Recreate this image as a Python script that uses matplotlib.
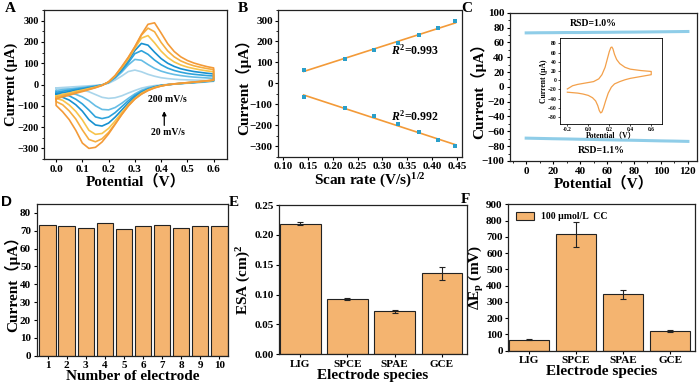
import numpy as np
import matplotlib
matplotlib.use('Agg')
import matplotlib.pyplot as plt
from matplotlib.ticker import MultipleLocator, FormatStrFormatter
from matplotlib.patches import Patch

plt.rcParams['font.family'] = ['Liberation Serif', 'Noto Sans CJK SC', 'DejaVu Sans']
plt.rcParams['font.weight'] = 'bold'
plt.rcParams['axes.labelweight'] = 'bold'
plt.rcParams['mathtext.fontset'] = 'custom'
plt.rcParams['mathtext.rm'] = 'Liberation Serif:bold'
plt.rcParams['mathtext.it'] = 'Liberation Serif:italic:bold'
plt.rcParams['mathtext.bf'] = 'Liberation Serif:bold'
plt.rcParams['axes.linewidth'] = 0.9
plt.rcParams['xtick.major.size'] = 2.5
plt.rcParams['ytick.major.size'] = 2.5
plt.rcParams['xtick.minor.size'] = 1.5
plt.rcParams['ytick.minor.size'] = 1.5
plt.rcParams['xtick.major.width'] = 0.8
plt.rcParams['ytick.major.width'] = 0.8

# ---------------- Panel A data: CVs at different scan rates ----------------
E_grid = [0.000, 0.025, 0.050, 0.075, 0.100, 0.125, 0.150, 0.175, 0.200, 0.225,
          0.250, 0.275, 0.300, 0.325, 0.350, 0.375, 0.400, 0.425, 0.450, 0.475,
          0.500, 0.525, 0.550, 0.575, 0.600]
scan_labels = ['20', '50', '80', '110', '140', '170', '200']
fwd_20 = [-16, -14, -12, -10, -8, -6, -4, -1, 6, 21, 40, 61, 68, 60, 48, 39, 32, 28, 25, 23, 22, 21, 20, 19, 18]
fwd_50 = [-28, -24, -21, -17, -14, -10, -6, -2, 9, 30, 58, 92, 118, 114, 94, 76, 63, 54, 47, 42, 38, 35, 33, 31, 29]
fwd_80 = [-37, -31, -27, -22, -18, -13, -8, -2, 10, 34, 65, 102, 145, 159, 142, 115, 93, 77, 66, 58, 52, 48, 45, 42, 40]
fwd_110 = [-45, -38, -33, -27, -22, -16, -10, -3, 11, 38, 72, 112, 160, 193, 185, 152, 122, 100, 85, 74, 67, 61, 57, 53, 50]
fwd_140 = [-54, -46, -40, -32, -26, -19, -12, -3, 12, 41, 78, 120, 170, 218, 230, 196, 157, 127, 106, 92, 82, 75, 69, 64, 60]
fwd_170 = [-61, -52, -45, -37, -30, -22, -14, -4, 13, 42, 82, 126, 176, 232, 265, 248, 198, 158, 130, 111, 98, 88, 81, 75, 70]
fwd_200 = [-68, -58, -50, -41, -33, -24, -15, -4, 12, 42, 84, 128, 178, 235, 283, 290, 242, 192, 155, 130, 113, 101, 92, 84, 78]
rev_20 = [-19, -19, -20, -22, -26, -34, -47, -60, -65, -62, -53, -40, -28, -17, -10, -5, -2, 0, 2, 4, 6, 8, 10, 12, 15]
rev_50 = [-36, -38, -41, -46, -58, -76, -100, -117, -119, -108, -88, -65, -44, -27, -16, -9, -4, 0, 2, 5, 7, 9, 11, 14, 17]
rev_80 = [-46, -48, -53, -69, -91, -120, -152, -160, -153, -132, -104, -76, -51, -33, -20, -11, -4, -1, 2, 5, 7, 10, 12, 15, 18]
rev_110 = [-55, -60, -73, -95, -125, -165, -190, -195, -181, -153, -120, -87, -58, -37, -23, -12, -5, -1, 3, 5, 8, 10, 13, 16, 19]
rev_140 = [-65, -74, -96, -126, -166, -215, -234, -230, -206, -171, -132, -95, -65, -41, -25, -14, -6, -1, 3, 5, 8, 11, 14, 16, 20]
rev_170 = [-80, -95, -124, -162, -213, -258, -269, -255, -225, -184, -141, -101, -68, -45, -28, -15, -7, -1, 3, 6, 9, 11, 14, 17, 21]
rev_200 = [-98, -128, -165, -215, -275, -300, -295, -270, -232, -187, -141, -100, -68, -45, -28, -16, -7, -1, 3, 6, 9, 12, 15, 18, 22]
cv_colors = ['#a9d5eb', '#66bde5', '#2ea3db', '#1790d0', '#f7c44c', '#f6ad40', '#f39a38']

# ---------------- Panel B data ----------------
sqrt_rate = [0.141, 0.224, 0.283, 0.332, 0.374, 0.412, 0.447]
ipa = [65, 118, 157, 193, 231, 266, 296]
ipc = [-64, -118, -158, -195, -233, -270, -300]

# ---------------- Panel C data ----------------
cycles = [0, 10, 20, 30, 40, 50, 60, 70, 80, 90, 100, 110, 120]
stab_ox = [72.8, 73.0, 73.1, 73.3, 73.3, 73.5, 73.6, 73.8, 73.9, 74.1, 74.3, 74.5, 74.7]
stab_red = [-69.2, -69.6, -70.0, -70.3, -70.7, -71.0, -71.4, -71.8, -72.1, -72.5, -72.9, -73.2, -73.6]
ins_fwd_E = [-0.20, -0.15, -0.10, -0.05, 0.00, 0.05, 0.10, 0.13, 0.16, 0.18, 0.20, 0.215, 0.225, 0.235, 0.25, 0.27, 0.30, 0.35, 0.40, 0.50, 0.60]
ins_fwd_I = [-19, -12, -9, -7, -5, -3, 3, 12, 28, 45, 62, 71, 72, 68, 56, 45, 36, 28, 24, 21, 19]
ins_rev_E = [0.60, 0.50, 0.40, 0.35, 0.30, 0.25, 0.22, 0.19, 0.165, 0.145, 0.13, 0.118, 0.105, 0.09, 0.07, 0.04, 0.00, -0.05, -0.10, -0.15, -0.20]
ins_rev_I = [12, 8, 4, 1, -3, -8, -15, -28, -45, -60, -69, -71, -66, -55, -45, -38, -33, -30, -28, -27, -26]

# ---------------- Panel D data ----------------
electrodes = ['1', '2', '3', '4', '5', '6', '7', '8', '9', '10']
elec_current = [73.5, 72.4, 71.4, 74.2, 70.9, 72.6, 73.3, 71.5, 72.6, 72.9]

# ---------------- Panel E / F data ----------------
species = ['LIG', 'SPCE', 'SPAE', 'GCE']
esa = [0.219, 0.093, 0.072, 0.136]
esa_err = [0.002, 0.002, 0.002, 0.011]
dEp = [67, 715, 346, 121]
dEp_err = [3, 79, 30, 4]

bar_color = '#f4b470'
TICK = 8
LAB = 11
CUR = 'Current（μA）'

fig = plt.figure(figsize=(7.0, 3.86), dpi=100)

def style(ax):
    ax.tick_params(axis='both', which='both', direction='out', labelsize=TICK, pad=1.5)
    for s in ax.spines.values():
        s.set_color('#222222')

# ---- A ----
axA = fig.add_axes([0.0625, 0.588, 0.2618, 0.386])
fwds = [fwd_20, fwd_50, fwd_80, fwd_110, fwd_140, fwd_170, fwd_200]
revs = [rev_20, rev_50, rev_80, rev_110, rev_140, rev_170, rev_200]
for i, (f, r) in enumerate(zip(fwds, revs)):
    xs = list(E_grid) + list(E_grid[::-1]) + [E_grid[0]]
    ys = list(f) + list(r[::-1]) + [f[0]]
    axA.plot(xs, ys, color=cv_colors[i], lw=1.2, zorder=2 + i, solid_joinstyle='round')
axA.set_xlim(-0.047, 0.651)
axA.set_ylim(-350, 350)
axA.xaxis.set_major_locator(MultipleLocator(0.1))
axA.yaxis.set_major_locator(MultipleLocator(100))
axA.yaxis.set_minor_locator(MultipleLocator(50))
axA.xaxis.set_major_formatter(FormatStrFormatter('%.1f'))
axA.set_xlabel('Potential（V）', fontsize=LAB, labelpad=0)
style(axA)
axA.tick_params(axis='y', labelsize=7.5, pad=1)
axA.set_ylabel('Current (μA)', fontsize=10.5, labelpad=0)
axA.text(0.425, -71, '200 mV/s', fontsize=7, ha='center', va='center')
axA.text(0.425, -227, '20 mV/s', fontsize=7, ha='center', va='center')
axA.annotate('', xy=(0.412, -112), xytext=(0.412, -205),
             arrowprops=dict(arrowstyle='-|>', color='black', lw=0.9, mutation_scale=6))

# ---- B ----
axB = fig.add_axes([0.3976, 0.594, 0.2629, 0.38])
pa = np.polyfit(sqrt_rate, ipa, 1)
pc = np.polyfit(sqrt_rate, ipc, 1)
xl = np.array([sqrt_rate[0], sqrt_rate[-1]])
axB.plot(xl, np.polyval(pa, xl), color='#f39a38', lw=1.2, zorder=2)
axB.plot(xl, np.polyval(pc, xl), color='#f39a38', lw=1.2, zorder=2)
axB.scatter(sqrt_rate, ipa, s=8, marker='s', color='#2b9fc9', zorder=3, linewidths=0)
axB.scatter(sqrt_rate, ipc, s=8, marker='s', color='#2b9fc9', zorder=3, linewidths=0)
axB.set_xlim(0.09, 0.461)
axB.set_ylim(-350, 350)
axB.xaxis.set_major_locator(MultipleLocator(0.05))
axB.xaxis.set_major_formatter(FormatStrFormatter('%.2f'))
axB.yaxis.set_major_locator(MultipleLocator(100))
axB.yaxis.set_minor_locator(MultipleLocator(50))
axB.set_xlabel('Scan rate (V/s)$^{1/2}$', fontsize=LAB, labelpad=0)
axB.set_ylabel(CUR, fontsize=LAB, labelpad=-1)
axB.text(0.318, 158, '$R^2$=0.993', fontsize=8.5, ha='left', va='center')
axB.text(0.318, -157, '$R^2$=0.992', fontsize=8.5, ha='left', va='center')
style(axB)

# ---- C ----
axC = fig.add_axes([0.7286, 0.583, 0.2676, 0.384])
axC.plot(cycles, stab_ox, color='#8fcde8', lw=2.2)
axC.plot(cycles, stab_red, color='#8fcde8', lw=2.2)
axC.set_xlim(-12, 127)
axC.set_ylim(-100, 100)
axC.xaxis.set_major_locator(MultipleLocator(20))
axC.xaxis.set_minor_locator(MultipleLocator(10))
axC.yaxis.set_major_locator(MultipleLocator(20))
axC.yaxis.set_minor_locator(MultipleLocator(10))
axC.set_xlabel('Potential（V）', fontsize=LAB, labelpad=0)
axC.set_ylabel(CUR, fontsize=LAB, labelpad=-3)
axC.text(50, 85, 'RSD=1.0%', fontsize=7, ha='center', va='center')
axC.text(56, -86, 'RSD=1.1%', fontsize=7, ha='center', va='center')
style(axC)

axI = fig.add_axes([0.800, 0.6788, 0.1453, 0.222])
axI.plot(list(ins_fwd_E) + list(ins_rev_E), list(ins_fwd_I) + list(ins_rev_I),
         color='#f3a04a', lw=0.9)
axI.set_xlim(-0.27, 0.70)
axI.set_ylim(-95, 91)
axI.xaxis.set_major_locator(MultipleLocator(0.2))
axI.xaxis.set_major_formatter(FormatStrFormatter('%.1f'))
axI.yaxis.set_major_locator(MultipleLocator(20))
axI.tick_params(axis='both', which='both', direction='out', labelsize=4, pad=1, length=1.5, width=0.5)
for s in axI.spines.values():
    s.set_linewidth(0.6)
axI.set_xlabel('Potential（V）', fontsize=5.5, labelpad=0)
axI.set_ylabel('Current (μA)', fontsize=5.5, labelpad=0)

# ---- D ----
axD = fig.add_axes([0.0524, 0.0785, 0.2737, 0.393])
xd = np.arange(1, len(electrodes) + 1)
axD.bar(xd, elec_current, width=0.86, color=bar_color, edgecolor='#222222', linewidth=0.8)
axD.set_xlim(0.43, 10.47)
axD.set_ylim(0, 85)
axD.set_xticks(xd)
axD.set_xticklabels(electrodes)
axD.yaxis.set_major_locator(MultipleLocator(10))
axD.set_xlabel('Number of electrode', fontsize=LAB, labelpad=0)
axD.set_ylabel(CUR, fontsize=LAB, labelpad=0)
style(axD)

# ---- E ----
axE = fig.add_axes([0.399, 0.0821, 0.268, 0.3868])
xe = np.arange(len(species))
axE.bar(xe, esa, width=0.86, color=bar_color, edgecolor='#222222', linewidth=0.8,
        yerr=esa_err, capsize=2, error_kw=dict(elinewidth=0.8, capthick=0.8, ecolor='#222222'))
axE.set_xlim(-0.445, 3.53)
axE.set_ylim(0, 0.25)
axE.set_xticks(xe)
axE.set_xticklabels(species)
axE.yaxis.set_major_locator(MultipleLocator(0.05))
axE.yaxis.set_major_formatter(FormatStrFormatter('%.2f'))
axE.set_xlabel('Electrode species', fontsize=LAB, labelpad=0)
axE.set_ylabel('ESA (cm)$^2$', fontsize=LAB, labelpad=1)
style(axE)

# ---- F ----
axF = fig.add_axes([0.7261, 0.0915, 0.2667, 0.3793])
axF.bar(xe, dEp, width=0.86, color=bar_color, edgecolor='#222222', linewidth=0.8,
        yerr=dEp_err, capsize=2, error_kw=dict(elinewidth=0.8, capthick=0.8, ecolor='#222222'))
axF.set_xlim(-0.445, 3.53)
axF.set_ylim(0, 900)
axF.set_xticks(xe)
axF.set_xticklabels(species)
axF.yaxis.set_major_locator(MultipleLocator(100))
axF.set_xlabel('Electrode species', fontsize=LAB, labelpad=0)
axF.set_ylabel('ΔE$_\\mathrm{p}$ (mV)', fontsize=LAB, labelpad=0)
axF.legend(handles=[Patch(facecolor=bar_color, edgecolor='#222222', linewidth=0.8,
                          label='100 μmol/L  CC')],
           loc='upper left', frameon=False, fontsize=7, handlelength=1.8,
           handleheight=0.9, borderaxespad=0.4)
style(axF)

# panel letters
for lbl, x, y, fam in [('A', 10, 8, 'Liberation Serif'), ('B', 243, 8, 'Liberation Serif'),
                       ('C', 467, 8, 'Liberation Serif'), ('D', 7, 202, 'Liberation Sans'),
                       ('E', 234, 203, 'Liberation Serif'), ('F', 465, 199, 'Liberation Serif')]:
    fig.text(x / 700, 1 - y / 386, lbl, fontsize=11, fontweight='bold', family=fam,
             ha='center', va='center')

fig.savefig('out.png', dpi=100)
